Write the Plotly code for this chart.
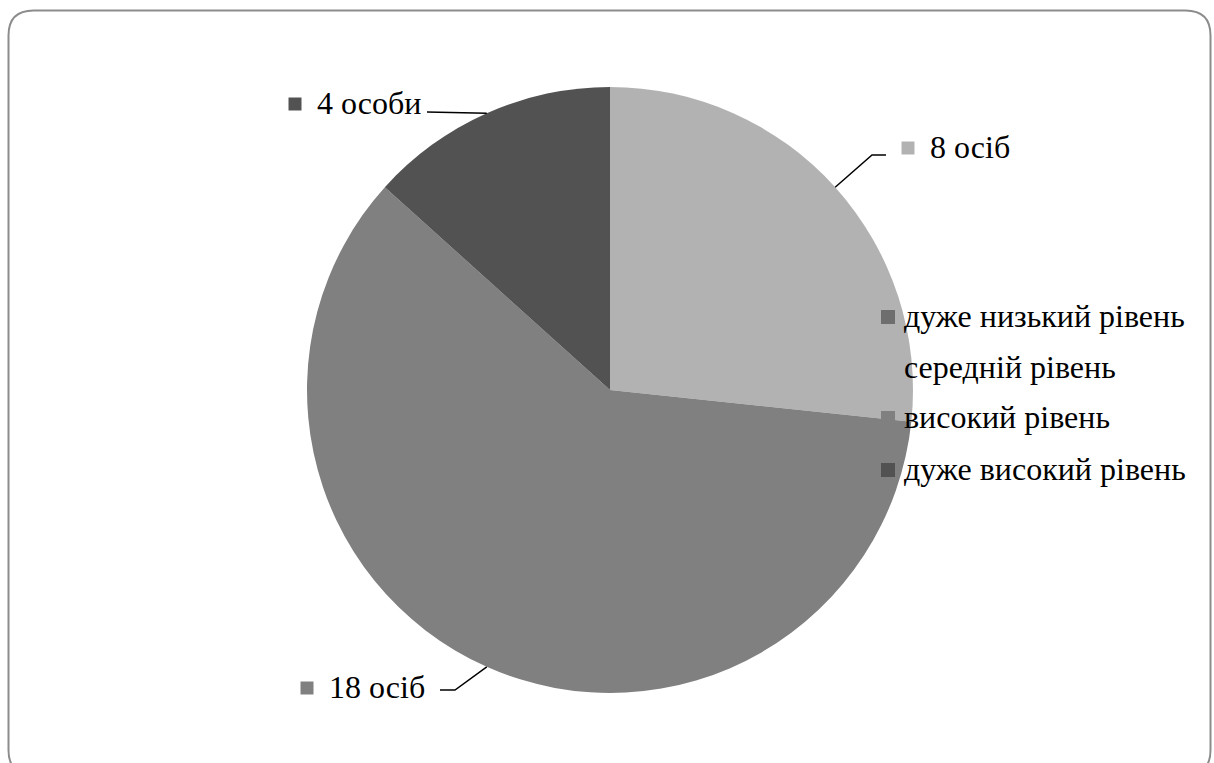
import math
import plotly.graph_objects as go

# Розподіл за рівнями (кількість осіб)
levels = ["дуже низький рівень", "середній рівень", "високий рівень", "дуже високий рівень"]
counts = [0, 8, 18, 4]
count_labels = ["", "8 осіб", "18 осіб", "4 особи"]
colors = ["#6e6e6e", "#b2b2b2", "#808080", "#525252"]

W, H = 1214, 763
FONT = "Liberation Serif"

# Geometry of the pie in pixels
CX, CY, R = 610, 390, 303


def px(x, y):
    return x / W, 1 - y / H


fig = go.Figure()
x0, y0 = px(CX - R, CY + R)
x1, y1 = px(CX + R, CY - R)
fig.add_trace(go.Pie(
    labels=levels, values=counts, sort=False, direction="clockwise", rotation=0,
    marker=dict(colors=colors, line=dict(width=0)),
    textinfo="none", hoverinfo="label+value", showlegend=False,
    domain=dict(x=[x0, x1], y=[y0, y1]),
))

shapes = []
annotations = []

# Outer rounded frame
r = 25
fx0, fy0, fx1, fy1 = 8.5, 10.5, 1210.5, 775
path = (f"M {fx0 + r},{fy0} L {fx1 - r},{fy0} Q {fx1},{fy0} {fx1},{fy0 + r} "
        f"L {fx1},{fy1 - r} Q {fx1},{fy1} {fx1 - r},{fy1} L {fx0 + r},{fy1} "
        f"Q {fx0},{fy1} {fx0},{fy1 - r} L {fx0},{fy0 + r} Q {fx0},{fy0} {fx0 + r},{fy0} Z")
shapes.append(dict(type="path", xref="x", yref="y", path=path,
                   line=dict(color="#8c8c8c", width=2), layer="above"))


def sq(cx, cy, size, color):
    shapes.append(dict(type="rect", xref="x", yref="y",
                       x0=cx - size / 2, x1=cx + size / 2, y0=cy - size / 2, y1=cy + size / 2,
                       fillcolor=color, line=dict(width=0), layer="above"))


def txt(x, y, s, size=32, anchor="left"):
    ax, ay = px(x, y)
    annotations.append(dict(x=ax, y=ay, xref="paper", yref="paper", text=s, showarrow=False,
                            xanchor=anchor, yanchor="middle",
                            font=dict(family=FONT, size=size, color="black")))


# Data labels with leader lines from slice mid-angles
total = sum(counts)
start = 0.0
label_pos = {1: (930, 147), 2: (329, 687), 3: (317, 103)}
bends = {1: [(872, 155), (886, 155)], 2: [(455, 690), (440, 690)], 3: [(427, 112)]}
for i, v in enumerate(counts):
    ang = 360 * v / total
    mid = math.radians(start + ang / 2)
    start += ang
    if v == 0:
        continue
    ex, ey = CX + R * math.sin(mid), CY - R * math.cos(mid)
    pts = [(ex, ey)] + bends[i]
    p = "M " + " L ".join(f"{a},{b}" for a, b in pts)
    shapes.append(dict(type="path", xref="x", yref="y", path=p,
                       line=dict(color="black", width=1.5), layer="above"))
    lx, ly = label_pos[i]
    sq(lx - 22, ly + 1, 13, colors[i])
    txt(lx - 2, ly, count_labels[i])

# Legend
leg_y = [316, 367, 417, 469]
for name, c, yy in zip(levels, colors, leg_y):
    sq(888, yy + 1, 14, c)
    txt(902, yy, name)

fig.update_layout(
    width=W, height=H, margin=dict(l=0, r=0, t=0, b=0),
    font=dict(family=FONT, color="black"),
    paper_bgcolor="white", plot_bgcolor="rgba(0,0,0,0)",
    xaxis=dict(range=[0, W], visible=False, fixedrange=True),
    yaxis=dict(range=[H, 0], visible=False, fixedrange=True),
    shapes=shapes, annotations=annotations, showlegend=False,
)
fig.write_html("out.html")
